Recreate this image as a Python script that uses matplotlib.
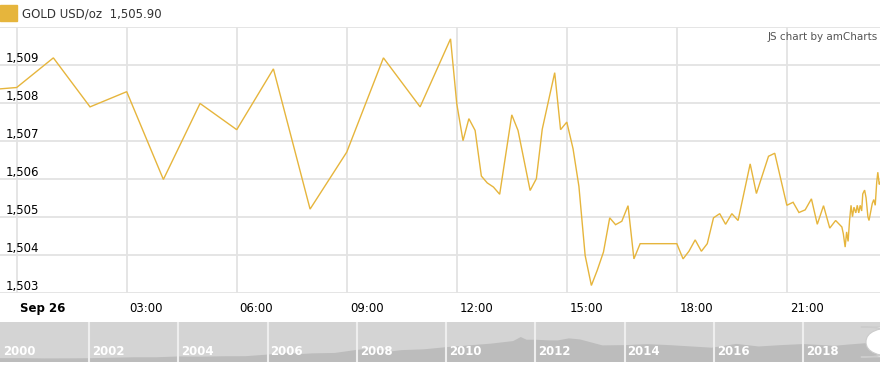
"""
Gold intraday chart (USD/oz) with a long-term navigator strip below.
"""
import matplotlib
matplotlib.use('Agg')
import matplotlib.pyplot as plt
import matplotlib.transforms as mtransforms
from matplotlib.patches import Rectangle, FancyBboxPatch

GOLD = '#e6b53c'
GRID = '#e3e3e3'

# intraday series, hours after Sep 26 00:00
hours = [-0.5, 0.0, 1.0, 2.0, 3.0, 4.0, 5.0, 6.0, 7.0, 8.0, 9.0, 10.0, 11.0,
         11.83, 12.0, 12.17, 12.33, 12.5, 12.67, 12.83, 13.0, 13.17, 13.5,
         13.67, 14.0, 14.17, 14.33, 14.67, 14.83, 15.0, 15.17, 15.33, 15.5,
         15.67, 15.83, 16.0, 16.17, 16.33, 16.5, 16.67, 16.83, 17.0, 17.5,
         18.0, 18.17, 18.33, 18.5, 18.67, 18.83, 19.0, 19.17, 19.33, 19.5,
         19.67, 20.0, 20.17, 20.5, 20.67, 21.0, 21.17, 21.33, 21.5, 21.67,
         21.83, 22.0, 22.17, 22.33, 22.5,
         22.54, 22.59, 22.63, 22.67, 22.71, 22.75, 22.79, 22.83, 22.88,
         22.92, 22.96, 23.0, 23.04, 23.07, 23.12, 23.16, 23.21, 23.24,
         23.28, 23.33, 23.37, 23.41, 23.45, 23.48, 23.52, 23.54]
prices = [1508.36, 1508.40, 1509.18, 1507.89, 1508.29, 1505.98, 1507.98,
          1507.29, 1508.89, 1505.20, 1506.70, 1509.18, 1507.89,
          1509.68, 1507.97, 1507.00, 1507.58, 1507.27, 1506.07, 1505.89,
          1505.78, 1505.59, 1507.68, 1507.27, 1505.69, 1506.00, 1507.30,
          1508.79, 1507.29, 1507.49, 1506.79, 1505.80, 1503.98, 1503.19,
          1503.59, 1504.07, 1504.97, 1504.79, 1504.88, 1505.29, 1503.89,
          1504.29, 1504.29, 1504.29, 1503.89, 1504.09, 1504.39, 1504.09,
          1504.29, 1504.97, 1505.08, 1504.80, 1505.08, 1504.90, 1506.39,
          1505.61, 1506.59, 1506.67, 1505.30, 1505.38, 1505.11, 1505.18,
          1505.47, 1504.80, 1505.29, 1504.70, 1504.90, 1504.73,
          1504.55, 1504.20, 1504.60, 1504.35, 1504.90, 1505.30, 1505.00,
          1505.25, 1505.10, 1505.30, 1505.10, 1505.30, 1505.15, 1505.60,
          1505.70, 1505.50, 1505.00, 1504.90, 1505.10, 1505.35, 1505.45,
          1505.30, 1505.90, 1506.17, 1505.85, 1505.90]

tick_hours = [0, 3, 6, 9, 12, 15, 18, 21]
tick_labels = ['Sep 26', '03:00', '06:00', '09:00', '12:00', '15:00',
               '18:00', '21:00']
price_levels = [1503, 1504, 1505, 1506, 1507, 1508, 1509]
price_labels = ['1,503', '1,504', '1,505', '1,506', '1,507', '1,508', '1,509']

# long-term history for the navigator
nav_years = [2000.0, 2000.5, 2001.0, 2001.5, 2002.0, 2002.5, 2003.0, 2003.5,
             2004.0, 2004.5, 2005.0, 2005.5, 2006.0, 2006.4, 2006.8, 2007.0,
             2007.5, 2008.0, 2008.2, 2008.8, 2009.0, 2009.5, 2010.0, 2010.5,
             2011.0, 2011.5, 2011.67, 2011.8, 2012.0, 2012.3, 2012.5, 2012.75,
             2013.0, 2013.5, 2014.0, 2014.5, 2015.0, 2015.5, 2015.95, 2016.5,
             2017.0, 2017.5, 2018.0, 2018.7, 2019.0, 2019.5, 2019.73]
nav_prices = [285, 285, 265, 270, 280, 315, 350, 350, 410, 395, 425, 430,
              550, 680, 600, 640, 670, 900, 960, 800, 880, 940, 1100, 1230,
              1360, 1550, 1850, 1650, 1650, 1600, 1600, 1750, 1670, 1230,
              1250, 1320, 1250, 1150, 1060, 1340, 1150, 1250, 1330, 1200,
              1290, 1420, 1505]
nav_ticks = [2000, 2002, 2004, 2006, 2008, 2010, 2012, 2014, 2016, 2018]

W, H = 880, 369
fig = plt.figure(figsize=(W / 100, H / 100), dpi=100)
plt.rcParams['font.family'] = ['DejaVu Sans']

def fbox(x0, y0, x1, y1):
    """pixel box (top-left origin) -> figure fraction rect"""
    return [x0 / W, 1 - y1 / H, (x1 - x0) / W, (y1 - y0) / H]

# main plot
ax = fig.add_axes(fbox(0, 26.7, 880, 292.7))
ax.plot(hours, prices, color=GOLD, lw=1.0, solid_joinstyle='miter')
ax.set_xlim(-0.455, 23.54)
ax.set_ylim(1503, 1510)
for s in ax.spines.values():
    s.set_visible(False)
ax.set_yticks(price_levels + [1510])
ax.set_xticks(tick_hours)
ax.grid(True, color=GRID, lw=1.3)
ax.set_axisbelow(True)
ax.tick_params(axis='y', length=0, labelleft=False)
ax.tick_params(axis='x', length=0, pad=7)
ax.set_xticklabels(tick_labels, fontsize=8.5, color='#000000', ha='left')
shift = mtransforms.ScaledTranslation(3 / 100, 0, fig.dpi_scale_trans)
for i, lbl in enumerate(ax.get_xticklabels()):
    lbl.set_transform(lbl.get_transform() + shift)
    if i == 0:
        lbl.set_fontweight('bold')

ytrans = mtransforms.blended_transform_factory(ax.transAxes, ax.transData)
for lev, txt in zip(price_levels, price_labels):
    ax.text(6 / W, lev, txt, transform=ytrans, fontsize=8.5, color='#000000',
            ha='left', va='bottom')

ax.text(0.997, 1 - (37 - 26.7) / 266, 'JS chart by amCharts',
        transform=ax.transAxes, fontsize=7.5, color='#555555',
        ha='right', va='center')

# legend at the top
fig.patches.append(Rectangle((0, 1 - 21 / H), 17 / W, 16 / H,
                             transform=fig.transFigure, color=GOLD))
fig.text(22 / W, 1 - 14 / H, 'GOLD USD/oz  1,505.90', fontsize=8.5,
         color='#333333', ha='left', va='center')

# navigator strip
nav = fig.add_axes(fbox(0, 321.5, 880, 362))
nav.set_facecolor('#d4d4d4')
nav.fill_between(nav_years, nav_prices, 0, color='#bcbcbc', lw=0)
nav.set_xlim(2000, 2019.72)
nav.set_ylim(0, 3000)
for s in nav.spines.values():
    s.set_visible(False)
nav.set_xticks([])
nav.set_yticks([])
for yr in nav_ticks:
    if yr > 2000:
        nav.axvline(yr, color='#eeeeee', lw=1.5)
    nav.text(yr + 0.06, 0.26, str(yr), transform=nav.get_xaxis_transform(),
             fontsize=8.5, fontweight='bold', color='#ffffff',
             ha='left', va='center')
grip = FancyBboxPatch((866 / W, 1 - 357 / H), 30 / W, 30 / H,
                      boxstyle='round,pad=0,rounding_size=0.04',
                      transform=fig.transFigure, facecolor='#ffffff',
                      edgecolor='#cccccc', lw=0.8)
fig.patches.append(grip)

fig.savefig('out.png', dpi=100)
